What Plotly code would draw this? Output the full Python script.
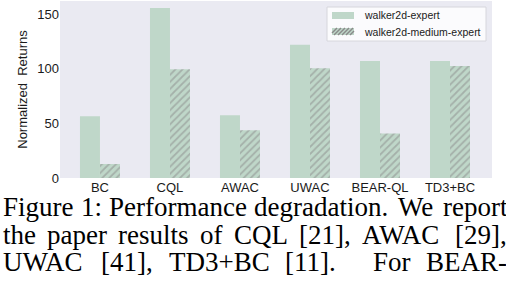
import plotly.graph_objects as go

# ---- data ----
methods = ["BC", "CQL", "AWAC", "UWAC", "BEAR-QL", "TD3+BC"]
expert = [56.5, 155.5, 57.5, 122.0, 107.0, 107.0]
medium_expert = [12.8, 99.5, 43.8, 100.5, 40.8, 102.5]
series_names = ["walker2d-expert", "walker2d-medium-expert"]
y_ticks = [0, 50, 100, 150]

caption_lines = [
    "Figure 1: Performance degradation. We report",
    "the paper results of CQL [21], AWAC [29],",
    "UWAC [41], TD3+BC [11]. For BEAR-",
]

# ---- styling ----
W, H = 506, 284
ML, MR, MT, MB = 60, 14, 1, 106
PW, PH = W - ML - MR, H - MT - MB
GREEN = "#bfd7c9"
HATCH = "#8a8a8a"
TXT = "#1a1a1a"


def px(x):
    return (x - ML) / PW


def py(y):
    return (H - MB - y) / PH


fig = go.Figure()
fig.add_trace(go.Bar(x=methods, y=expert, name=series_names[0], showlegend=False,
                     marker=dict(color=GREEN, line=dict(width=0))))
fig.add_trace(go.Bar(x=methods, y=medium_expert, name=series_names[1], showlegend=False,
                     marker=dict(color=GREEN, line=dict(width=0),
                                 pattern=dict(shape="/", fgcolor=HATCH,
                                              bgcolor=GREEN, size=5,
                                              solidity=0.35))))

fig.update_layout(
    width=W, height=H,
    margin=dict(l=ML, r=MR, t=MT, b=MB, autoexpand=False),
    paper_bgcolor="white", plot_bgcolor="#eaeaf2",
    barmode="group", bargap=0.4286, bargroupgap=0,
    font=dict(family="Liberation Sans, Arial, sans-serif", size=13, color=TXT),
    showlegend=False,
)
fig.update_xaxes(range=[-0.571, 5.6], showgrid=False, zeroline=False,
                 showline=False, ticks="", tickfont=dict(size=13))
fig.update_yaxes(range=[0, 162], tickvals=y_ticks, showgrid=False,
                 zeroline=False, showline=False, ticks="",
                 tickfont=dict(size=13),
                 title=dict(text="Normalized  Returns", font=dict(size=13),
                            standoff=6))

# ---- compact legend (matplotlib style) ----
fig.add_shape(type="rect", xref="paper", yref="paper",
              x0=px(327), x1=px(486), y0=py(41), y1=py(7),
              fillcolor="rgba(255,255,255,0.8)",
              line=dict(color="#d6d6dc", width=1), layer="above")
fig.add_shape(type="rect", xref="paper", yref="paper",
              x0=px(332), x1=px(354), y0=py(19), y1=py(12),
              fillcolor=GREEN, line=dict(width=0), layer="above")
fig.add_shape(type="rect", xref="paper", yref="paper",
              x0=px(332), x1=px(354), y0=py(35), y1=py(28),
              fillcolor=GREEN, line=dict(width=0), layer="above")
for x0 in range(330, 354, 4):
    xa, ya, xb, yb = x0, 35, x0 + 7, 28
    if xa < 332:
        ya -= (332 - xa)
        xa = 332
    if xb > 354:
        yb += (xb - 354)
        xb = 354
    fig.add_shape(type="line", xref="paper", yref="paper",
                  x0=px(xa), y0=py(ya), x1=px(xb), y1=py(yb),
                  line=dict(color=HATCH, width=1.4), layer="above")
for name, yc in zip(series_names, [15.5, 31.5]):
    fig.add_annotation(text=name, x=px(362), y=py(yc), xref="paper", yref="paper",
                       xanchor="left", yanchor="middle", showarrow=False,
                       font=dict(size=10.5, color=TXT))

# ---- caption: justified lines, Times metrics ----
TW = {' ': 250, '+': 564, ',': 250, '-': 333, '.': 250, ':': 278, '[': 333,
      ']': 333, 'A': 722, 'B': 667, 'C': 667, 'D': 722, 'E': 611, 'F': 556,
      'L': 611, 'P': 556, 'Q': 722, 'R': 667, 'T': 611, 'U': 722, 'W': 944,
      'a': 444, 'c': 444, 'd': 500, 'e': 444, 'f': 333, 'g': 500, 'h': 500,
      'i': 278, 'l': 278, 'm': 778, 'n': 500, 'o': 500, 'p': 500, 'r': 333,
      's': 389, 't': 278, 'u': 500, 'x': 500}
FS = 27
X0, X1 = 1.0, 505.0
baselines = [215, 243, 270]


def wwidth(w):
    return sum(TW.get(c, 500) for c in w) / 1000.0 * FS


for line, base in zip(caption_lines, baselines):
    words = line.split(" ")
    widths = [wwidth(w) for w in words]
    sentence = [words[i].endswith(".") for i in range(len(words) - 1)]
    nat = [0.25 * FS * (1.33 if s else 1.0) for s in sentence]
    weights = [3.0 if s else 1.0 for s in sentence]
    extra = (X1 - X0) - sum(widths) - sum(nat)
    unit = extra / sum(weights)
    x = X0
    center_y = base - 0.30 * FS
    for i, w in enumerate(words):
        fig.add_annotation(text=w, x=px(x), y=py(center_y),
                           xref="paper", yref="paper", xanchor="left",
                           yanchor="middle", showarrow=False,
                           font=dict(family="Liberation Serif, Times New Roman, serif",
                                     size=FS, color="black"))
        if i < len(weights):
            x += widths[i] + nat[i] + unit * weights[i]

fig.write_html("out.html", config={"displayModeBar": False},
               post_script="document.body.style.margin='0';document.body.style.overflow='hidden';")
